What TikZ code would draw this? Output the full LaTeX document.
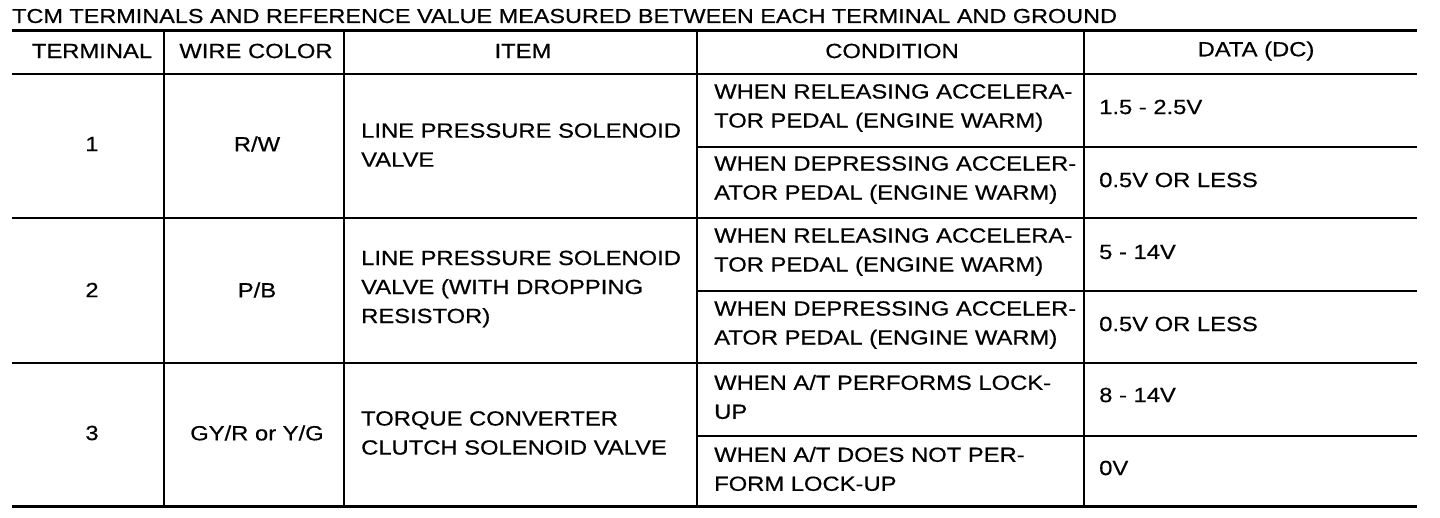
\documentclass[tikz,border=0pt]{standalone}
\usepackage{fontspec}
\newfontfamily\tablefont{Liberation Sans}[FakeStretch=1.16, FakeBold=0.5]
\usetikzlibrary{
	positioning
}
\tikzset{
	rulethick/.style={line width=3pt},
	rulethin/.style={line width=1.2pt},
	titletext/.style={font=\tablefont\fontsize{20.2}{29}\selectfont, inner sep=0pt},
	headtext/.style={font=\tablefont\fontsize{20.5}{29}\selectfont, inner sep=0pt},
	midtext/.style={font=\tablefont\fontsize{20.5}{29}\selectfont, inner sep=0pt, align=center},
	celltext/.style={font=\tablefont\fontsize{20.5}{29}\selectfont, inner sep=0pt, align=left, anchor=west}
}

\begin{document}
\begin{tikzpicture}[x=1pt, y=-1pt]
	\useasboundingbox (0,0) rectangle (1440,518);
	\node[titletext, anchor=base west] (title) at (12,23) {TCM TERMINALS AND REFERENCE VALUE MEASURED BETWEEN EACH TERMINAL AND GROUND};

	% rules
	\draw[rulethick] (12,31) -- (1417,31);
	\draw[rulethick] (12,506) -- (1417,506);
	\foreach \y in {74,218,363} {
		\draw[rulethin] (12,\y) -- (1417,\y);
	}
	\foreach \y in {147,291,436} {
		\draw[rulethin] (697,\y) -- (1417,\y);
	}
	\foreach \x in {164,344,697,1084} {
		\draw[rulethin] (\x,31) -- (\x,506);
	}

	% header
	\node[headtext] (headterm) at (92,51) {TERMINAL};
	\node[headtext] (headwire) at (256,51) {WIRE COLOR};
	\node[headtext] (headitem) at (523,51) {ITEM};
	\node[headtext] (headcond) at (892,51) {CONDITION};
	\node[headtext] (headdata) at (1256,51) {DATA (DC)};

	% terminal 1
	\node[midtext] (term1) at (92,144) {1};
	\node[midtext] (wire1) at (257,144) {R/W};
	\node[celltext] (item1) at (361,145) {LINE PRESSURE SOLENOID\\VALVE};
	\node[celltext] (cond1a) at (714,108) {WHEN RELEASING ACCELERA-\\TOR PEDAL (ENGINE WARM)};
	\node[celltext] (data1a) at (1099,107) {1.5 - 2.5V};
	\node[celltext] (cond1b) at (714,180) {WHEN DEPRESSING ACCELER-\\ATOR PEDAL (ENGINE WARM)};
	\node[celltext] (data1b) at (1099,180) {0.5V OR LESS};

	% terminal 2
	\node[midtext] (term2) at (92,290) {2};
	\node[midtext] (wire2) at (257,290) {P/B};
	\node[celltext] (item2) at (361,289) {LINE PRESSURE SOLENOID\\VALVE (WITH DROPPING\\RESISTOR)};
	\node[celltext] (cond2a) at (714,252) {WHEN RELEASING ACCELERA-\\TOR PEDAL (ENGINE WARM)};
	\node[celltext] (data2a) at (1099,252) {5 - 14V};
	\node[celltext] (cond2b) at (714,325) {WHEN DEPRESSING ACCELER-\\ATOR PEDAL (ENGINE WARM)};
	\node[celltext] (data2b) at (1099,324) {0.5V OR LESS};

	% terminal 3
	\node[midtext] (term3) at (92,433) {3};
	\node[midtext] (wire3) at (257,433) {GY/R or Y/G};
	\node[celltext] (item3) at (361,433) {TORQUE CONVERTER\\CLUTCH SOLENOID VALVE};
	\node[celltext] (cond3a) at (714,397) {WHEN A/T PERFORMS LOCK-\\UP};
	\node[celltext] (data3a) at (1099,395) {8 - 14V};
	\node[celltext] (cond3b) at (714,469) {WHEN A/T DOES NOT PER-\\FORM LOCK-UP};
	\node[celltext] (data3b) at (1099,468) {0V};
\end{tikzpicture}
\end{document}
